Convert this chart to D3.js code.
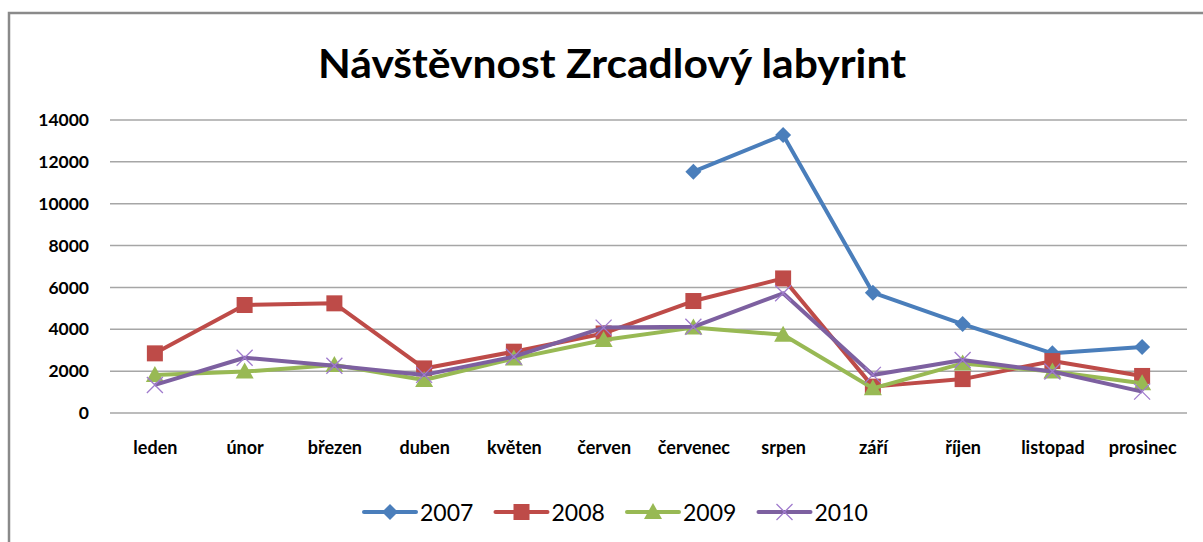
<!DOCTYPE html>
<html>
<head>
<meta charset="utf-8">
<script src="https://cdn.jsdelivr.net/npm/d3@7"></script>
<style>
  body { margin: 0; background: #fff; }
  svg { display: block; font-family: Lato, "Open Sans", sans-serif; }
</style>
</head>
<body>
<div id="chart"></div>
<script>
// months on the x axis
var months = ["leden", "únor", "březen", "duben", "květen", "červen",
              "červenec", "srpen", "září", "říjen", "listopad", "prosinec"];
var yTicks = [0, 2000, 4000, 6000, 8000, 10000, 12000, 14000];

// visitors per month, null = no data
var v2007 = [null, null, null, null, null, null, 11530, 13280, 5750, 4250, 2850, 3150];
var v2008 = [2850, 5160, 5240, 2130, 2930, 3800, 5350, 6430, 1260, 1620, 2480, 1770];
var v2009 = [1820, 1980, 2290, 1580, 2600, 3490, 4080, 3740, 1180, 2370, 1980, 1420];
var v2010 = [1340, 2640, 2260, 1820, 2690, 4080, 4120, 5720, 1820, 2530, 1980, 1020];

var series = [
  { name: "2007", values: v2007, color: "#4a7ebb", marker: "diamond" },
  { name: "2008", values: v2008, color: "#be4b48", marker: "square" },
  { name: "2009", values: v2009, color: "#98b954", marker: "triangle" },
  { name: "2010", values: v2010, color: "#7d60a0", marker: "cross" }
];

var W = 1203, H = 542;
var plot = { left: 110, right: 1187, top: 120, bottom: 413 };

var svg = d3.select("#chart").append("svg").attr("width", W).attr("height", H);

// outer frame
svg.append("path")
  .attr("d", "M9,542 L9,13 L1203,13")
  .attr("fill", "none").attr("stroke", "#8a8a8a").attr("stroke-width", 2.5);

// title
svg.append("text")
  .attr("x", 612).attr("y", 78)
  .attr("text-anchor", "middle")
  .attr("font-size", 40).attr("font-weight", "bold")
  .attr("textLength", 588).attr("lengthAdjust", "spacingAndGlyphs")
  .attr("fill", "#000")
  .text("Návštěvnost Zrcadlový labyrint");

var x = d3.scalePoint().domain(months).range([plot.left, plot.right]).padding(0.5);
var y = d3.scaleLinear().domain([0, 14000]).range([plot.bottom, plot.top]);

// grid lines
svg.append("g").selectAll("line").data(yTicks).enter().append("line")
  .attr("x1", plot.left).attr("x2", plot.right)
  .attr("y1", function(d) { return y(d); }).attr("y2", function(d) { return y(d); })
  .attr("stroke", "#a6a6a6").attr("stroke-width", 1.5);

// y axis labels
var yAxis = svg.append("g")
  .attr("transform", "translate(89,0)")
  .call(d3.axisLeft(y).tickValues(yTicks).tickSize(0).tickPadding(0).tickFormat(d3.format("d")));
yAxis.select(".domain").remove();
yAxis.selectAll("text")
  .attr("font-family", "Lato, sans-serif")
  .attr("font-size", 17.5).attr("font-weight", "bold").attr("fill", "#000");

// x axis labels
var xAxis = svg.append("g")
  .attr("transform", "translate(0,441)")
  .call(d3.axisBottom(x).tickSize(0).tickPadding(0));
xAxis.select(".domain").remove();
xAxis.selectAll("text")
  .attr("font-family", "Lato, sans-serif")
  .attr("font-size", 18).attr("font-weight", "bold").attr("fill", "#000");

// marker shapes
function drawMarker(g, type, color, cx, cy) {
  if (type === "diamond") {
    g.append("path").attr("d", "M" + cx + "," + (cy - 8) + " L" + (cx + 8) + "," + cy +
        " L" + cx + "," + (cy + 8) + " L" + (cx - 8) + "," + cy + "Z")
      .attr("fill", color);
  } else if (type === "square") {
    g.append("rect").attr("x", cx - 8).attr("y", cy - 8).attr("width", 16).attr("height", 16)
      .attr("fill", color);
  } else if (type === "triangle") {
    g.append("path").attr("d", "M" + cx + "," + (cy - 9) + " L" + (cx + 9) + "," + (cy + 7) +
        " L" + (cx - 9) + "," + (cy + 7) + "Z")
      .attr("fill", color);
  } else {
    g.append("path").attr("d", "M" + (cx - 8) + "," + (cy - 8) + " L" + (cx + 8) + "," + (cy + 8) +
        " M" + (cx + 8) + "," + (cy - 8) + " L" + (cx - 8) + "," + (cy + 8))
      .attr("stroke", d3.color(color).brighter(0.7)).attr("stroke-width", 1.3).attr("fill", "none");
  }
}

var line = d3.line()
  .defined(function(d) { return d != null; })
  .x(function(d, i) { return x(months[i]); })
  .y(function(d) { return y(d); });

series.forEach(function(s) {
  var g = svg.append("g");
  g.append("path").datum(s.values)
    .attr("d", line)
    .attr("fill", "none").attr("stroke", s.color)
    .attr("stroke-width", 4).attr("stroke-linejoin", "round");
  s.values.forEach(function(v, i) {
    if (v != null) drawMarker(g, s.marker, s.color, x(months[i]), y(v));
  });
});

// legend
var legend = svg.append("g");
series.forEach(function(s, i) {
  var lx = 364 + i * 131.5, ly = 512;
  var g = legend.append("g");
  g.append("line").attr("x1", lx).attr("x2", lx + 52).attr("y1", ly).attr("y2", ly)
    .attr("stroke", s.color).attr("stroke-width", 4).attr("stroke-linecap", "round");
  drawMarker(g, s.marker, s.color, lx + 26, ly);
  g.append("text").attr("x", lx + 56).attr("y", ly + 8.5)
    .attr("font-size", 23).attr("fill", "#000").text(s.name);
});
</script>
</body>
</html>
